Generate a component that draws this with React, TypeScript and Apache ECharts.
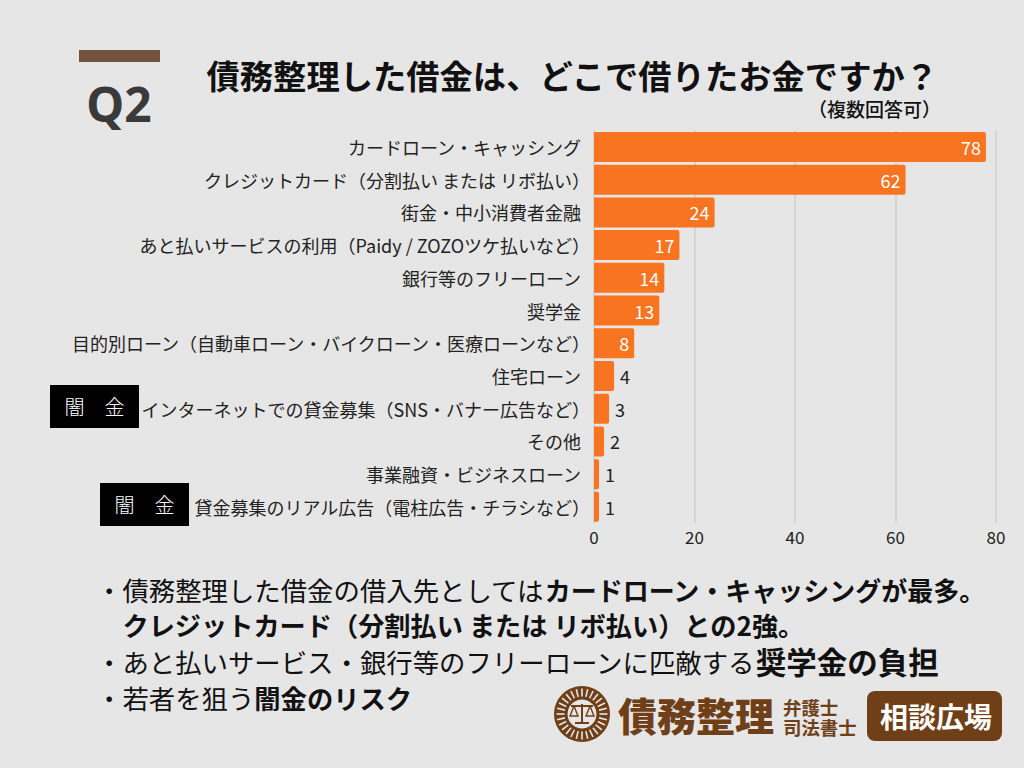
import React, { useEffect, useRef } from "react";
import * as echarts from "echarts";

const FONT = '"Noto Sans CJK JP", "Noto Sans", sans-serif';
const categories = [
  "カードローン・キャッシング",
  "クレジットカード（分割払い または リボ払い）",
  "街金・中小消費者金融",
  "あと払いサービスの利用（Paidy / ZOZOツケ払いなど）",
  "銀行等のフリーローン",
  "奨学金",
  "目的別ローン（自動車ローン・バイクローン・医療ローンなど）",
  "住宅ローン",
  "インターネットでの貸金募集（SNS・バナー広告など）",
  "その他",
  "事業融資・ビジネスローン",
  "貸金募集のリアル広告（電柱広告・チラシなど）",
];
const values = [78, 62, 24, 17, 14, 13, 8, 4, 3, 2, 1, 1];
const titleText = "債務整理した借金は、どこで借りたお金ですか？";
const subtitleText = "（複数回答可）";
const bullets: [string, string][] = [
  ["・債務整理した借金の借入先としては", "カードローン・キャッシングが最多。"],
  ["", "クレジットカード（分割払い または リボ払い）との2強。"],
  ["・あと払いサービス・銀行等のフリーローンに匹敵する", "奨学金の負担"],
  ["・若者を狙う", "闇金のリスク"],
];
const bulletBoldSize = [26, 26.2, 30.5, 26.3];
const bulletY = [589, 625, 661, 697];

const BROWN = "#6f4018";
const BG = "#e6e6e6";
const rays = Array.from({ length: 28 }, (_, i) => (i * Math.PI * 2) / 28);

export default function App() {
  const ref = useRef<HTMLDivElement>(null);
  useEffect(() => {
    const chart = echarts.init(ref.current!, undefined, { renderer: "svg", width: 1024, height: 768 });
    const graphic: any[] = [
      { type: "rect", shape: { x: 79, y: 50, width: 81, height: 12 }, style: { fill: "#735340" } },
      { type: "text", x: 119, y: 103, style: { text: "Q2", font: `bold 48px "Noto Sans", sans-serif`, fill: "#3a3a3a", textAlign: "center", textVerticalAlign: "middle" } },
      { type: "text", x: 206.5, y: 74, style: { text: titleText, font: `bold 33.3px ${FONT}`, fill: "#111", textAlign: "left", textVerticalAlign: "middle" } },
      { type: "text", x: 941, y: 108, style: { text: subtitleText, font: `500 19px ${FONT}`, fill: "#111", textAlign: "right", textVerticalAlign: "middle" } },
      { type: "rect", shape: { x: 50, y: 385, width: 89, height: 43 }, style: { fill: "#000" } },
      { type: "text", x: 94.5, y: 406, style: { text: "闇　金", font: `300 20px ${FONT}`, fill: "#fff", textAlign: "center", textVerticalAlign: "middle" } },
      { type: "rect", shape: { x: 100, y: 483, width: 89, height: 43 }, style: { fill: "#000" } },
      { type: "text", x: 144.5, y: 504, style: { text: "闇　金", font: `300 20px ${FONT}`, fill: "#fff", textAlign: "center", textVerticalAlign: "middle" } },
      ...bullets.map((b, i) => ({
        type: "text",
        x: i === 1 ? 122.5 : 96,
        y: bulletY[i],
        style: {
          text: (b[0] ? `{n|${b[0]}}` : "") + `{b|${b[1]}}`,
          textVerticalAlign: "middle",
          rich: {
            n: { font: `400 26.4px ${FONT}`, fill: "#111" },
            b: { font: `bold ${bulletBoldSize[i]}px ${FONT}`, fill: "#111" },
          },
        },
      })),
      // logo
      { type: "circle", shape: { cx: 582, cy: 714, r: 28 }, style: { fill: BROWN } },
      ...rays.map((a) => ({
        type: "line",
        shape: { x1: 582 + Math.cos(a) * 17.5, y1: 714 + Math.sin(a) * 17.5, x2: 582 + Math.cos(a) * 25.5, y2: 714 + Math.sin(a) * 25.5 },
        style: { stroke: BG, lineWidth: 1.6 },
      })),
      { type: "circle", shape: { cx: 582, cy: 714, r: 14.5 }, style: { fill: BG } },
      { type: "line", shape: { x1: 582, y1: 704, x2: 582, y2: 723 }, style: { stroke: BROWN, lineWidth: 2 } },
      { type: "line", shape: { x1: 571, y1: 706, x2: 593, y2: 706 }, style: { stroke: BROWN, lineWidth: 2 } },
      { type: "line", shape: { x1: 575, y1: 723, x2: 589, y2: 723 }, style: { stroke: BROWN, lineWidth: 2 } },
      { type: "polyline", shape: { points: [[574, 706], [570, 716], [578, 716], [574, 706]] }, style: { stroke: BROWN, fill: "none", lineWidth: 1.4 } },
      { type: "polyline", shape: { points: [[590, 706], [586, 716], [594, 716], [590, 706]] }, style: { stroke: BROWN, fill: "none", lineWidth: 1.4 } },
      { type: "text", x: 618, y: 714, style: { text: "債務整理", font: `900 39px ${FONT}`, fill: BROWN, textVerticalAlign: "middle" } },
      { type: "text", x: 783, y: 717, style: { text: "弁護士\n司法書士", font: `bold 18.4px ${FONT}`, lineHeight: 20.5, fill: BROWN, textVerticalAlign: "middle" } },
      { type: "rect", shape: { x: 867, y: 691, width: 135, height: 50, r: 8 }, style: { fill: BROWN } },
      { type: "text", x: 880, y: 716, style: { text: "相談広場", font: `bold 28px ${FONT}`, fill: "#fff", textVerticalAlign: "middle" } },
    ];
    chart.setOption({
      animation: false,
      backgroundColor: BG,
      textStyle: { fontFamily: FONT },
      grid: { left: 594, top: 130.6, width: 402, height: 392.6 },
      xAxis: {
        type: "value",
        min: 0,
        max: 80,
        interval: 20,
        axisLine: { show: false },
        axisTick: { show: false },
        splitLine: { lineStyle: { color: "#cfcfcf", width: 1.5 } },
        axisLabel: { color: "#222", fontSize: 17, margin: 5, fontFamily: FONT },
      },
      yAxis: {
        type: "category",
        inverse: true,
        data: categories,
        axisLine: { show: false },
        axisTick: { show: false },
        axisLabel: {
          interval: 0,
          margin: 4,
          formatter: (v: string) => (v.endsWith("）") ? `{p|${v}}` : `{a|${v}}`),
          rich: {
            a: { color: "#222", fontSize: 18, fontFamily: FONT, padding: [0, 9, 0, 0] },
            p: { color: "#222", fontSize: 18, fontFamily: FONT },
          },
        },
      },
      series: [
        {
          type: "bar",
          barWidth: 30,
          itemStyle: { color: "#f97420", borderRadius: [0, 2, 2, 0] },
          data: values.map((v) => ({
            value: v,
            label:
              v >= 8
                ? { show: true, position: "insideRight", color: "#fff", fontSize: 18, distance: 5, fontFamily: FONT }
                : { show: true, position: "right", color: "#222", fontSize: 18, distance: 6, fontFamily: FONT },
          })),
        },
      ],
      graphic,
    });
    return () => chart.dispose();
  }, []);
  return <div ref={ref} style={{ position: "fixed", left: 0, top: 0, width: 1024, height: 768 }} />;
}
